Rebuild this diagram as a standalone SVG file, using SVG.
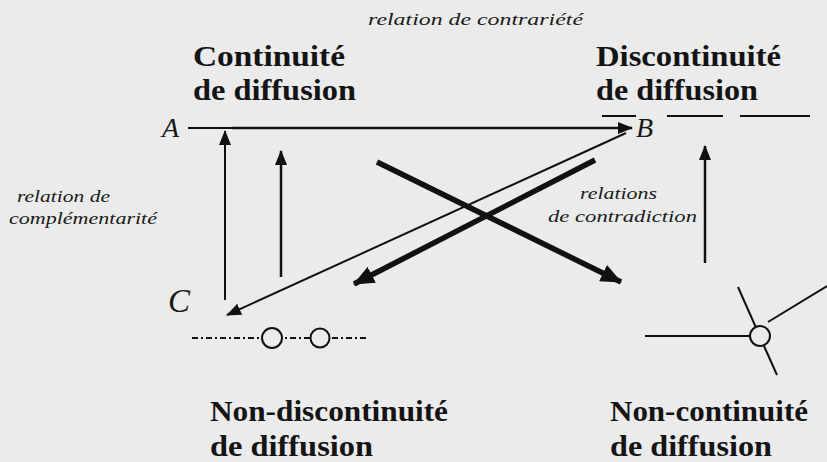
<svg xmlns="http://www.w3.org/2000/svg" width="827" height="462" viewBox="0 0 827 462">
<style>
.bg{fill:#ebebeb}
.head{font-family:'Liberation Serif','Times New Roman',serif;font-weight:bold;font-size:30px;fill:#141414}
.lab{font-family:'Liberation Serif','Times New Roman',serif;font-style:italic;font-size:17px;fill:#1a1a1a}
.let{font-family:'Liberation Serif','Times New Roman',serif;font-style:italic;fill:#1a1a1a}
.thin{stroke:#111;stroke-width:2;fill:none}
.mid{stroke:#111;stroke-width:2.5;fill:none}
.thick{stroke:#111;stroke-width:5.5;fill:none}
.sym{stroke:#111;stroke-width:2;fill:#ebebeb}
</style>
<defs>
<marker id="ah" markerUnits="userSpaceOnUse" markerWidth="16" markerHeight="12" refX="14" refY="6" orient="auto">
<path d="M0,0 L15,6 L0,12 Z" fill="#111"/>
</marker>
<marker id="ahb" markerUnits="userSpaceOnUse" markerWidth="22" markerHeight="18" refX="20" refY="9" orient="auto">
<path d="M0,0 L21,9 L0,18 Z" fill="#111"/>
</marker>
</defs>
<rect class="bg" x="0" y="0" width="827" height="462"/>

<g id="connectors">
<line class="thin" x1="188" y1="128" x2="232" y2="128" stroke="#555"/>
<line class="mid" x1="232" y1="128" x2="632" y2="128" marker-end="url(#ah)"/>
<line class="thin" x1="602" y1="116" x2="636" y2="116"/>
<line class="thin" x1="667" y1="116" x2="723" y2="116"/>
<line class="thin" x1="740" y1="116" x2="810" y2="116" stroke="#666"/>
<line class="thin" x1="225" y1="300" x2="225" y2="131" marker-end="url(#ah)"/>
<line class="mid" x1="281" y1="277" x2="281" y2="151" marker-end="url(#ah)"/>
<line class="mid" x1="705" y1="263" x2="705" y2="146" marker-end="url(#ah)"/>
<line class="thin" x1="626" y1="133" x2="227" y2="315" marker-end="url(#ah)"/>
<line class="thick" x1="595" y1="160" x2="354" y2="284" marker-end="url(#ahb)"/>
<line class="thick" x1="377" y1="162" x2="621" y2="282" marker-end="url(#ahb)"/>
</g>

<g id="symbol-left">
<line class="thin" x1="192" y1="338" x2="367" y2="338" stroke-dasharray="6,3,2,3"/>
<circle class="sym" cx="272" cy="338" r="10"/>
<circle class="sym" cx="320" cy="338" r="9.5"/>
</g>

<g id="symbol-right">
<line class="thin" x1="645" y1="336" x2="750" y2="336"/>
<line class="thin" x1="738" y1="287" x2="755.5" y2="326.5"/>
<line class="thin" x1="764" y1="346" x2="777" y2="375"/>
<line class="thin" x1="768" y1="322" x2="827" y2="286"/>
<circle class="sym" cx="760" cy="336" r="10"/>
</g>

<g id="node-A">
<text class="head" x="193" y="66" textLength="152" lengthAdjust="spacingAndGlyphs">Continuité</text>
<text class="head" x="193" y="100" textLength="163" lengthAdjust="spacingAndGlyphs">de diffusion</text>
<text class="let" x="162" y="137" font-size="28">A</text>
</g>

<g id="node-B">
<text class="head" x="596" y="66" textLength="185" lengthAdjust="spacingAndGlyphs">Discontinuité</text>
<text class="head" x="596" y="100" textLength="162" lengthAdjust="spacingAndGlyphs">de diffusion</text>
<text class="let" x="636" y="137" font-size="28">B</text>
</g>

<g id="node-C">
<text class="let" x="168" y="312" font-size="33">C</text>
<text class="head" x="210" y="421" textLength="238" lengthAdjust="spacingAndGlyphs">Non-discontinuité</text>
<text class="head" x="210" y="456" textLength="163" lengthAdjust="spacingAndGlyphs">de diffusion</text>
</g>

<g id="node-D">
<text class="head" x="610" y="421" textLength="198" lengthAdjust="spacingAndGlyphs">Non-continuité</text>
<text class="head" x="610" y="456" textLength="162" lengthAdjust="spacingAndGlyphs">de diffusion</text>
</g>

<g id="labels">
<text class="lab" x="368" y="25" textLength="215" lengthAdjust="spacingAndGlyphs">relation de contrariété</text>
<text class="lab" x="17" y="202" textLength="93" lengthAdjust="spacingAndGlyphs">relation de</text>
<text class="lab" x="9" y="224" textLength="148" lengthAdjust="spacingAndGlyphs">complémentarité</text>
<text class="lab" x="580" y="199" textLength="77" lengthAdjust="spacingAndGlyphs">relations</text>
<text class="lab" x="548" y="222" textLength="149" lengthAdjust="spacingAndGlyphs">de contradiction</text>
</g>
</svg>
